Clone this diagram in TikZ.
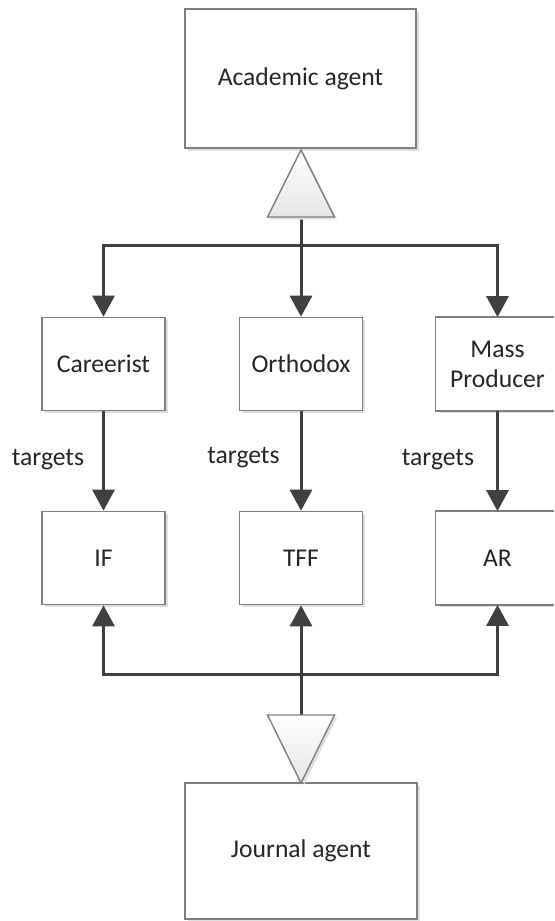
\documentclass[tikz,border=0pt]{standalone}
\usepackage{fontspec}
\setmainfont{Carlito}
\usetikzlibrary{arrows.meta,shadows}
\definecolor{linec}{HTML}{404040}
\definecolor{boxc}{HTML}{7F7F7F}
\definecolor{txtc}{HTML}{262626}
\begin{document}
\begin{tikzpicture}[x=0.5pt,y=-0.5pt,
  plainbox/.style={fill=white,inner sep=0pt,align=center,
    text=txtc,font=\fontsize{12.8}{15}\selectfont},
  box/.style={plainbox,draw=boxc,line width=0.8pt,
    drop shadow={shadow xshift=1.3pt,shadow yshift=-1.3pt,fill=black!13,opacity=1}},
  smallbox/.style={box,minimum width=61.5pt,minimum height=46.5pt},
  cutbox/.style={plainbox,minimum width=59pt,minimum height=46.5pt},
  cutframe/.style={draw=boxc,line width=0.8pt},
  shadowc/.style={fill=black!13},
  conn/.style={draw=linec,line width=1.5pt},
  arr/.style={conn,-{Triangle[width=11pt,length=10.5pt]}},
  lbl/.style={text=txtc,font=\fontsize{12.8}{15}\selectfont,inner sep=0pt},
  tri/.style={draw=boxc,line width=0.7pt,top color=white,bottom color=black!10}]
\useasboundingbox (0,0) rectangle (554,921);
\fill[white] (0,0) rectangle (554,921);

% shadows under the right column, which is cut by the picture's edge
\coordinate (mshadow) at (438.6,410);
\coordinate (ashadow) at (438.6,604);
\fill[shadowc] (mshadow) rectangle (554,412.6);
\fill[shadowc] (ashadow) rectangle (554,606.6);

% boxes
\node[box,minimum width=115.5pt,minimum height=69.5pt] (acad) at (300.5,78.5) {Academic agent};
\node[smallbox] (car)  at (103.5,364) {Careerist};
\node[smallbox] (orth) at (301,364)   {Orthodox};
\node[cutbox] (mass) at (495,364) {\hspace*{2.5pt}Mass\\\hspace*{2.5pt}Producer};
\node[smallbox] (if)   at (103.5,558) {IF};
\node[smallbox] (tff)  at (301,558)   {TFF};
\node[cutbox] (ar)   at (495,558) {\hspace*{2.5pt}AR};
\node[box,minimum width=116pt,minimum height=68pt] (jour) at (301,851) {Journal agent};
\draw[cutframe] (mass.north east) -- (mass.north west) -- (mass.south west) -- (mass.south east);
\draw[cutframe] (ar.north east) -- (ar.north west) -- (ar.south west) -- (ar.south east);

% junction points
\coordinate (ta) at (301,150);
\coordinate (tb) at (301,217);
\coordinate (jt) at (301,245);
\coordinate (jb) at (301,674);
\coordinate (bb) at (301,715);
\coordinate (ba) at (301,783);

% upper connectors
\draw[arr] (tb) -- (orth);
\draw[arr] (jt) -| (car);
\draw[arr] (jt) -| ([xshift=1.25pt]mass.north);

% targets
\draw[arr] (car) -- (if) node[midway,lbl,anchor=east,xshift=-9pt,yshift=0.5pt] {targets};
\draw[arr] (orth) -- (tff) node[midway,lbl,anchor=east,xshift=-10pt,yshift=1.5pt] {targets};
\draw[arr] ([xshift=1.25pt]mass.south) -- ([xshift=1.25pt]ar.north) node[midway,lbl,anchor=east,xshift=-11pt,yshift=0.5pt] {targets};

% lower connectors
\draw[arr] (bb) -- (tff);
\draw[arr] (jb) -| (if);
\draw[arr] (jb) -| ([xshift=1.25pt]ar.south);

% triangles (generalisation markers)
\fill[black!12] ([xshift=1.3pt,yshift=-1.3pt]ta) -- ++(-33.5,67) -- ++(67,0) -- cycle;
\shade[tri] (ta) -- ++(-33.5,67) -- ++(67,0) -- cycle;
\fill[black!12] ([xshift=1.3pt,yshift=-1.3pt]bb) -- ++(33.5,0) -- ([xshift=1.3pt,yshift=-1.3pt]ba) -- cycle;
\shade[tri] (bb) ++(-33.5,0) -- ++(67,0) -- (ba) -- cycle;
\end{tikzpicture}
\end{document}
